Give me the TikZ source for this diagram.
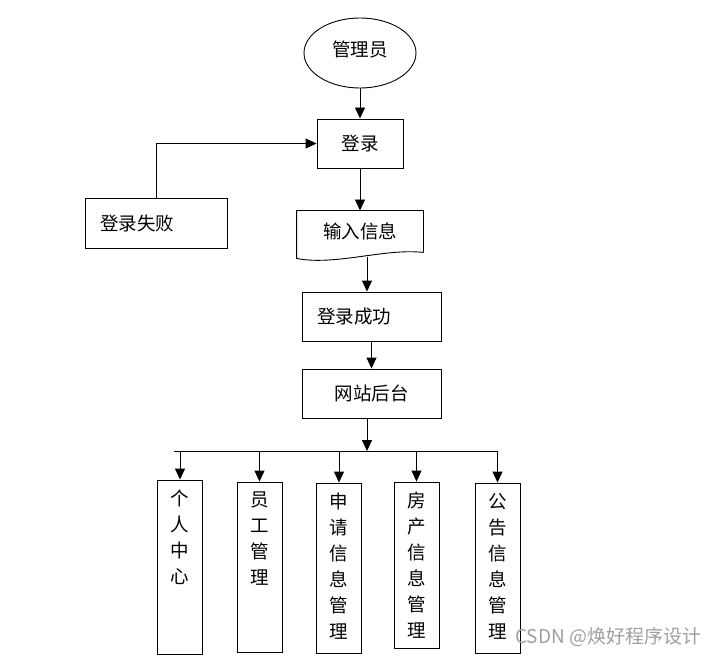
\documentclass[tikz,border=0pt]{standalone}
\usepackage{fontspec}
\setmainfont{Noto Sans CJK SC}
\usetikzlibrary{shapes.geometric,arrows.meta,calc}

\begin{document}
\begin{tikzpicture}
[
	x=1pt,y=-1pt,
	line width=0.9pt,
	font=\fontsize{18.5}{26}\selectfont,
	flowbox/.style={draw,rectangle,inner sep=0pt},
	arr/.style={-{Triangle[length=11pt,width=10pt]}}
]

	\useasboundingbox (0,0) rectangle (718,658);

	% login part
	\node[draw,ellipse,minimum width=112pt,minimum height=70pt,text depth=8pt] (admin) at (360,53) {管理员};
	\node[flowbox,minimum width=86pt,minimum height=49pt] (login) at (360,143.5) {登录};
	\node[flowbox,minimum width=142pt,minimum height=50pt,text width=112pt,align=left] (fail) at (156,223) {登录失败};
	\node[minimum width=126pt,minimum height=41pt,inner sep=0pt] (input) at (360,231.5) {输入信息};
	\draw (input.south east) -- (input.north east) -- (input.north west) -- ($(input.south west)+(0,6)$)
		.. controls (335,266) and (385,248) .. (input.south east);
	\node[flowbox,minimum width=139pt,minimum height=49pt,text width=109pt,align=left] (success) at (371.5,316.5) {登录成功};
	\node[flowbox,minimum width=139pt,minimum height=49pt] (portal) at (371.5,393.5) {网站后台};

	% connectors
	\draw[arr] (admin) -- (login);
	\draw[arr] (login) -- (input);
	\draw[arr] (fail.north) |- (login.west);
	\draw[arr] ([shift={(7,5)}]input.south) -- ([xshift=-4.5pt]success.north);
	\draw[arr] (success) -- (portal);

	% modules
	\coordinate (busL) at (174,451);
	\coordinate (busR) at (497,451);
	\draw (busL) -- (busR);
	\draw[arr] ([xshift=-4.5pt]portal.south) -- ([xshift=-4.5pt]portal.south |- busL);

	\foreach \nm/\cx/\ya/\yb/\txt in {center/180/480/654/{个\\人\\中\\心},
		staff/259.5/482/652/{员\\工\\管\\理},
		apply/339/483/653/{申\\请\\信\\息\\管\\理},
		house/416.5/482/648/{房\\产\\信\\息\\管\\理},
		notice/497.5/483/653/{公\\告\\信\\息\\管\\理}}
	{
		\node[flowbox,minimum width=45pt,minimum height={\yb-\ya}] (\nm) at (\cx,{(\ya+\yb)/2}) {};
		\node[anchor=north,align=center,inner sep=0pt] (\nm-t) at ([yshift=-10pt]\nm.north) {\txt};
		\draw[arr] (\nm.north |- busL) -- (\nm.north);
	}

	\node[anchor=east,text=gray!75,font=\fontsize{19}{19}\selectfont] (mark) at (705,637) {CSDN @焕好程序设计};

\end{tikzpicture}
\end{document}
